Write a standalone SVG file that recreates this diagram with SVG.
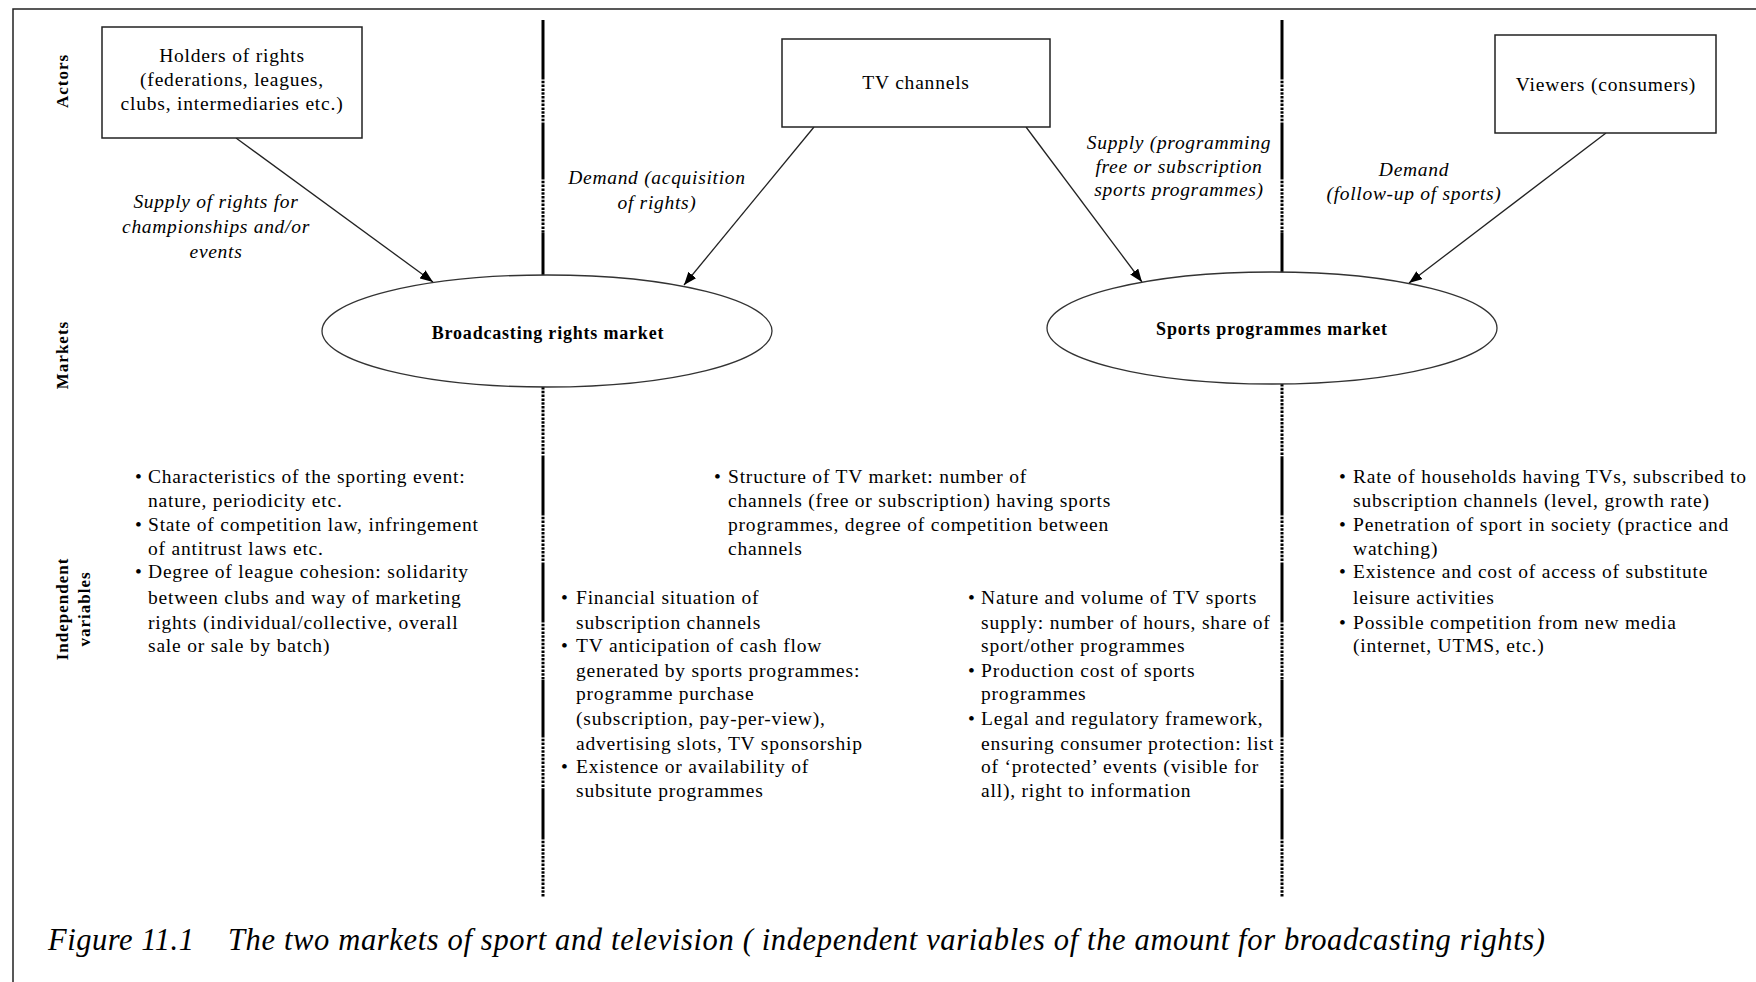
<svg xmlns="http://www.w3.org/2000/svg" width="1756" height="982" viewBox="0 0 1756 982">
<style>
text{font-family:"Liberation Serif","Times New Roman",serif;fill:#000}
.t{font-size:19.5px;letter-spacing:0.8px}
.c{text-anchor:middle}
.it{font-style:italic;font-size:19.5px;letter-spacing:0.7px}
.b{font-weight:bold;font-size:18px;letter-spacing:0.8px}
.side{font-weight:bold;font-size:17px;letter-spacing:1px;text-anchor:middle}
.box{fill:#fff;stroke:#222;stroke-width:1.5}
.ell{fill:#fff;stroke:#333;stroke-width:1.3}
.arr{stroke:#222;stroke-width:1.3;fill:none;marker-end:url(#ah)}
.ds{stroke:#000;stroke-width:3}
.dd{stroke:#000;stroke-width:3;stroke-dasharray:2.5 1.3}
.cap{font-style:italic;font-size:30.5px}
</style>
<defs>
<marker id="ah" viewBox="0 0 13 10" refX="13" refY="5" markerWidth="13" markerHeight="10" markerUnits="userSpaceOnUse" orient="auto">
<path d="M0,0 L13,5 L0,10 z" fill="#000"/>
</marker>
</defs>
<rect width="1756" height="982" fill="#fff"/>
<rect x="13" y="9" width="1800" height="1100" fill="none" stroke="#222" stroke-width="1.5"/>

<g id="side-labels">
<text class="side" transform="translate(62,81) rotate(-90)" x="0" y="6">Actors</text>
<text class="side" transform="translate(62,355) rotate(-90)" x="0" y="6">Markets</text>
<text class="side" transform="translate(62,609) rotate(-90)" x="0" y="6">Independent</text>
<text class="side" transform="translate(62,609) rotate(-90)" x="0" y="28">variables</text>
</g>

<g id="dividers">
<line class="ds" x1="543" y1="20" x2="543" y2="77"/>
<line class="dd" x1="543" y1="77" x2="543" y2="125"/>
<line class="ds" x1="543" y1="125" x2="543" y2="177"/>
<line class="dd" x1="543" y1="177" x2="543" y2="233"/>
<line class="ds" x1="543" y1="233" x2="543" y2="276"/>
<line class="dd" x1="543" y1="387" x2="543" y2="457"/>
<line class="ds" x1="543" y1="457" x2="543" y2="513"/>
<line class="dd" x1="543" y1="513" x2="543" y2="563"/>
<line class="ds" x1="543" y1="563" x2="543" y2="620"/>
<line class="dd" x1="543" y1="620" x2="543" y2="680"/>
<line class="ds" x1="543" y1="680" x2="543" y2="735"/>
<line class="dd" x1="543" y1="735" x2="543" y2="790"/>
<line class="ds" x1="543" y1="790" x2="543" y2="837"/>
<line class="dd" x1="543" y1="837" x2="543" y2="897"/>
<line class="ds" x1="1282" y1="20" x2="1282" y2="77"/>
<line class="dd" x1="1282" y1="77" x2="1282" y2="125"/>
<line class="ds" x1="1282" y1="125" x2="1282" y2="177"/>
<line class="dd" x1="1282" y1="177" x2="1282" y2="233"/>
<line class="ds" x1="1282" y1="233" x2="1282" y2="273"/>
<line class="dd" x1="1282" y1="384" x2="1282" y2="457"/>
<line class="ds" x1="1282" y1="457" x2="1282" y2="513"/>
<line class="dd" x1="1282" y1="513" x2="1282" y2="563"/>
<line class="ds" x1="1282" y1="563" x2="1282" y2="620"/>
<line class="dd" x1="1282" y1="620" x2="1282" y2="680"/>
<line class="ds" x1="1282" y1="680" x2="1282" y2="735"/>
<line class="dd" x1="1282" y1="735" x2="1282" y2="790"/>
<line class="ds" x1="1282" y1="790" x2="1282" y2="837"/>
<line class="dd" x1="1282" y1="837" x2="1282" y2="897"/>
</g>

<g id="connectors">
<line class="arr" x1="236" y1="138" x2="433" y2="282"/>
<line class="arr" x1="814" y1="127" x2="684" y2="285"/>
<line class="arr" x1="1026" y1="127" x2="1142" y2="282"/>
<line class="arr" x1="1606" y1="133" x2="1409" y2="283"/>
</g>

<g id="holders">
<rect class="box" x="102" y="27" width="260" height="111"/>
<text class="t c" x="232" y="62">Holders of rights</text>
<text class="t c" x="232" y="86">(federations, leagues,</text>
<text class="t c" x="232" y="110">clubs, intermediaries etc.)</text>
</g>

<g id="tv-channels">
<rect class="box" x="782" y="39" width="268" height="88"/>
<text class="t c" x="916" y="89">TV channels</text>
</g>

<g id="viewers">
<rect class="box" x="1495" y="35" width="221" height="98"/>
<text class="t c" x="1606" y="91">Viewers (consumers)</text>
</g>

<g id="broadcasting-market">
<ellipse class="ell" cx="547" cy="331" rx="225" ry="56"/>
<text class="b c" x="548" y="339">Broadcasting rights market</text>
</g>

<g id="sports-market">
<ellipse class="ell" cx="1272" cy="328" rx="225" ry="56"/>
<text class="b c" x="1272" y="335">Sports programmes market</text>
</g>

<g id="labels">
<text class="it c" x="216" y="208">Supply of rights for</text>
<text class="it c" x="216" y="233">championships and/or</text>
<text class="it c" x="216" y="258">events</text>
<text class="it c" x="657" y="184">Demand (acquisition</text>
<text class="it c" x="657" y="209">of rights)</text>
<text class="it c" x="1179" y="149">Supply (programming</text>
<text class="it c" x="1179" y="173">free or subscription</text>
<text class="it c" x="1179" y="196">sports programmes)</text>
<text class="it c" x="1414" y="176">Demand</text>
<text class="it c" x="1414" y="200">(follow-up of sports)</text>
</g>

<g id="vars-rights">
<text class="t" x="135" y="483">•</text><text class="t" x="148" y="483">Characteristics of the sporting event:</text>
<text class="t" x="148" y="507">nature, periodicity etc.</text>
<text class="t" x="135" y="531">•</text><text class="t" x="148" y="531">State of competition law, infringement</text>
<text class="t" x="148" y="555">of antitrust laws etc.</text>
<text class="t" x="135" y="578">•</text><text class="t" x="148" y="578">Degree of league cohesion: solidarity</text>
<text class="t" x="148" y="604">between clubs and way of marketing</text>
<text class="t" x="148" y="629">rights (individual/collective, overall</text>
<text class="t" x="148" y="652">sale or sale by batch)</text>
</g>

<g id="vars-tv-structure">
<text class="t" x="714" y="483">•</text><text class="t" x="728" y="483">Structure of TV market: number of</text>
<text class="t" x="728" y="507">channels (free or subscription) having sports</text>
<text class="t" x="728" y="531">programmes, degree of competition between</text>
<text class="t" x="728" y="555">channels</text>
</g>

<g id="vars-tv-left">
<text class="t" x="561" y="604">•</text><text class="t" x="576" y="604">Financial situation of</text>
<text class="t" x="576" y="629">subscription channels</text>
<text class="t" x="561" y="652">•</text><text class="t" x="576" y="652">TV anticipation of cash flow</text>
<text class="t" x="576" y="677">generated by sports programmes:</text>
<text class="t" x="576" y="700">programme purchase</text>
<text class="t" x="576" y="725">(subscription, pay-per-view),</text>
<text class="t" x="576" y="750">advertising slots, TV sponsorship</text>
<text class="t" x="561" y="773">•</text><text class="t" x="576" y="773">Existence or availability of</text>
<text class="t" x="576" y="797">subsitute programmes</text>
</g>

<g id="vars-tv-right">
<text class="t" x="968" y="604">•</text><text class="t" x="981" y="604">Nature and volume of TV sports</text>
<text class="t" x="981" y="629">supply: number of hours, share of</text>
<text class="t" x="981" y="652">sport/other programmes</text>
<text class="t" x="968" y="677">•</text><text class="t" x="981" y="677">Production cost of sports</text>
<text class="t" x="981" y="700">programmes</text>
<text class="t" x="968" y="725">•</text><text class="t" x="981" y="725">Legal and regulatory framework,</text>
<text class="t" x="981" y="750">ensuring consumer protection: list</text>
<text class="t" x="981" y="773">of ‘protected’ events (visible for</text>
<text class="t" x="981" y="797">all), right to information</text>
</g>

<g id="vars-viewers">
<text class="t" x="1339" y="483">•</text><text class="t" x="1353" y="483">Rate of households having TVs, subscribed to</text>
<text class="t" x="1353" y="507">subscription channels (level, growth rate)</text>
<text class="t" x="1339" y="531">•</text><text class="t" x="1353" y="531">Penetration of sport in society (practice and</text>
<text class="t" x="1353" y="555">watching)</text>
<text class="t" x="1339" y="578">•</text><text class="t" x="1353" y="578">Existence and cost of access of substitute</text>
<text class="t" x="1353" y="604">leisure activities</text>
<text class="t" x="1339" y="629">•</text><text class="t" x="1353" y="629">Possible competition from new media</text>
<text class="t" x="1353" y="652">(internet, UTMS, etc.)</text>
</g>

<g id="caption">
<text class="cap" x="48" y="950" textLength="146" lengthAdjust="spacing">Figure 11.1</text>
<text class="cap" x="228" y="950" textLength="1317" lengthAdjust="spacing">The two markets of sport and television ( independent variables of the amount for broadcasting rights)</text>
</g>
</svg>
